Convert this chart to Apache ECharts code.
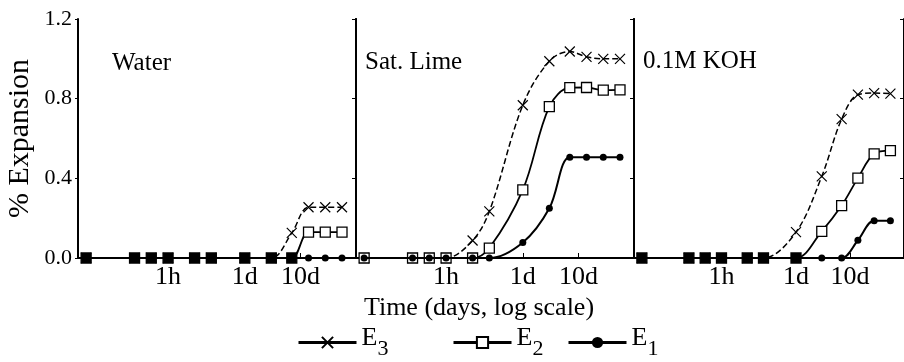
<!DOCTYPE html>
<html><head><meta charset="utf-8">
<script src="https://cdn.jsdelivr.net/npm/echarts@6/dist/echarts.min.js"></script>
<style>html,body{margin:0;padding:0;background:#fff}#c{width:904px;height:362px}</style>
</head><body><div id="c"></div>
<script>
// ---- data ----
const panelNames = ['Water', 'Sat. Lime', '0.1M KOH'];
const timeDays = [0.0014, 0.0104, 0.0208, 0.0417, 0.125, 0.25, 1, 3, 7, 14, 28, 56];
const waterE3 = [0, 0, 0, 0, 0, 0, 0, 0, 0.126, 0.255, 0.255, 0.255];
const waterE2 = [0, 0, 0, 0, 0, 0, 0, 0, 0, 0.13, 0.13, 0.13];
const waterE1 = [0, 0, 0, 0, 0, 0, 0, 0, 0, 0, 0, 0];
const limeE3 = [0, 0, 0, 0, 0.088, 0.234, 0.767, 0.988, 1.037, 1.01, 1.0, 1.0];
const limeE2 = [0, 0, 0, 0, 0, 0.05, 0.342, 0.76, 0.855, 0.856, 0.843, 0.844];
const limeE1 = [0, 0, 0, 0, 0, 0, 0.078, 0.25, 0.506, 0.506, 0.506, 0.506];
const kohE3 = [0, 0, 0, 0, 0, 0, 0.13, 0.41, 0.697, 0.82, 0.828, 0.825];
const kohE2 = [0, 0, 0, 0, 0, 0, 0, 0.134, 0.263, 0.401, 0.523, 0.539];
const kohE1 = [0, 0, 0, 0, 0, 0, 0, 0, 0, 0.089, 0.187, 0.187];
const xTickValues = [0.041667, 1, 10];
const xTickLabels = ['1h', '1d', '10d'];
const yMin = 0, yMax = 1.2, yStep = 0.4;
const seriesNames = ['E3', 'E2', 'E1'];

// ---- layout / style ----
const FONT = 'Liberation Serif';
const panelLeft = [78, 356, 634];
const panelWidth = 278;
const gridTop = 19, gridHeight = 239;
const fillZeroSquares = [true, false, true];
const panelData = [
  [waterE3, waterE2, waterE1],
  [limeE3, limeE2, limeE1],
  [kohE3, kohE2, kohE1]
];
const crossPath = 'path://M0,0L10,10M10,0L0,10';

function tickLabel(v) {
  for (let i = 0; i < xTickValues.length; i++) {
    if (Math.abs(Math.log10(v) - Math.log10(xTickValues[i])) < 0.01) return xTickLabels[i];
  }
  return '';
}

const grids = [], xAxes = [], yAxes = [], series = [];
panelLeft.forEach((left, p) => {
  grids.push({left: left, top: gridTop, width: panelWidth, height: gridHeight, containLabel: false});
  xAxes.push({
    type: 'log', logBase: 10, min: 0.001, max: 100, gridIndex: p, position: 'bottom',
    axisLine: {show: true, lineStyle: {color: '#000', width: 1.5}},
    axisTick: {show: true, inside: true, length: 5, customValues: xTickValues, lineStyle: {color: '#000', width: 1}},
    axisLabel: {show: true, customValues: xTickValues, formatter: tickLabel, fontFamily: FONT, fontSize: 26, color: '#000', margin: 6},
    splitLine: {show: false}, minorTick: {show: false},
    name: p === 1 ? 'Time (days, log scale)' : '',
    nameLocation: 'middle', nameGap: 21,
    nameTextStyle: {fontFamily: FONT, fontSize: 26, color: '#000', lineHeight: 26, padding: [0, 32, 0, 0]}
  });
  xAxes.push({
    type: 'log', logBase: 10, min: 0.001, max: 100, gridIndex: p, position: 'top',
    axisLine: {show: true, lineStyle: {color: '#000', width: 2}},
    axisTick: {show: false}, axisLabel: {show: false}, splitLine: {show: false}
  });
  yAxes.push({
    type: 'value', min: yMin, max: yMax, interval: yStep, gridIndex: p, position: 'left',
    axisLine: {show: true, onZero: false, lineStyle: {color: '#000', width: 2}},
    axisTick: {show: p === 0, inside: false, length: 3, lineStyle: {color: '#000'}},
    axisLabel: {show: p === 0, fontFamily: FONT, fontSize: 22, color: '#000', margin: 6,
      formatter: v => v.toFixed(1)},
    splitLine: {show: false},
    name: p === 0 ? '% Expansion' : '', nameLocation: 'middle', nameGap: 43,
    nameTextStyle: {fontFamily: FONT, fontSize: 30, color: '#000'}
  });
  yAxes.push({
    type: 'value', min: yMin, max: yMax, interval: yStep, gridIndex: p, position: 'right',
    axisLine: {show: true, onZero: false, lineStyle: {color: '#000', width: 2}},
    axisTick: {show: true, inside: true, length: 4, lineStyle: {color: '#000'}},
    axisLabel: {show: false}, splitLine: {show: false}
  });
  const vals = panelData[p];
  seriesNames.forEach((name, s) => {
    const base = {
      name: name, type: 'line', xAxisIndex: p * 2, yAxisIndex: p * 2,
      smooth: 0.35, showAllSymbol: true, animation: false, z: 2 + s,
      data: timeDays.map((t, i) => {
        const item = {value: [t, vals[s][i]]};
        if (s === 1 && fillZeroSquares[p] && vals[s][i] === 0) item.itemStyle = {color: '#000'};
        return item;
      })
    };
    if (s === 0) {
      Object.assign(base, {
        symbol: crossPath, symbolSize: 10,
        itemStyle: {color: 'rgba(0,0,0,0)', borderColor: '#000', borderWidth: 1.2},
        lineStyle: {color: '#000', width: 1.5, type: [6, 3]}
      });
    } else if (s === 1) {
      Object.assign(base, {
        symbol: 'rect', symbolSize: 10,
        itemStyle: {color: '#fff', borderColor: '#000', borderWidth: 1.3},
        lineStyle: {color: '#000', width: 1.8}
      });
    } else {
      Object.assign(base, {
        symbol: 'circle', symbolSize: 7,
        itemStyle: {color: '#000', borderColor: '#000', borderWidth: 0},
        lineStyle: {color: '#000', width: 2}
      });
    }
    series.push(base);
  });
});

const titles = [
  {text: panelNames[0], left: 112, top: 51},
  {text: panelNames[1], left: 365, top: 50},
  {text: panelNames[2], left: 643, top: 49}
].map(t => Object.assign(t, {padding: 0, textStyle: {fontFamily: FONT, fontSize: 25, fontWeight: 'normal', color: '#000'}}));

const legendBase = {
  top: 325, padding: 0, itemWidth: 58, itemHeight: 14, itemGap: 0, selectedMode: false,
  lineStyle: {type: 'solid', width: 3, color: '#000'},
  formatter: n => '{e|E}{s|' + n.slice(1) + '}',
  textStyle: {fontFamily: FONT, color: '#000', padding: [0, 0, 0, 0],
    rich: {
      e: {fontFamily: FONT, fontSize: 26, color: '#000', verticalAlign: 'bottom', padding: [0, 0, 9, 0]},
      s: {fontFamily: FONT, fontSize: 22, color: '#000', verticalAlign: 'bottom'}
    }}
};
const legends = [
  Object.assign({}, legendBase, {data: ['E3'], left: 297}),
  Object.assign({}, legendBase, {data: ['E2'], left: 452}),
  Object.assign({}, legendBase, {data: ['E1'], left: 567})
];

const chart = echarts.init(document.getElementById('c'), null, {renderer: 'canvas'});
chart.setOption({
  backgroundColor: '#fff',
  animation: false,
  title: titles,
  legend: legends,
  grid: grids,
  xAxis: xAxes,
  yAxis: yAxes,
  series: series
});
</script></body></html>
